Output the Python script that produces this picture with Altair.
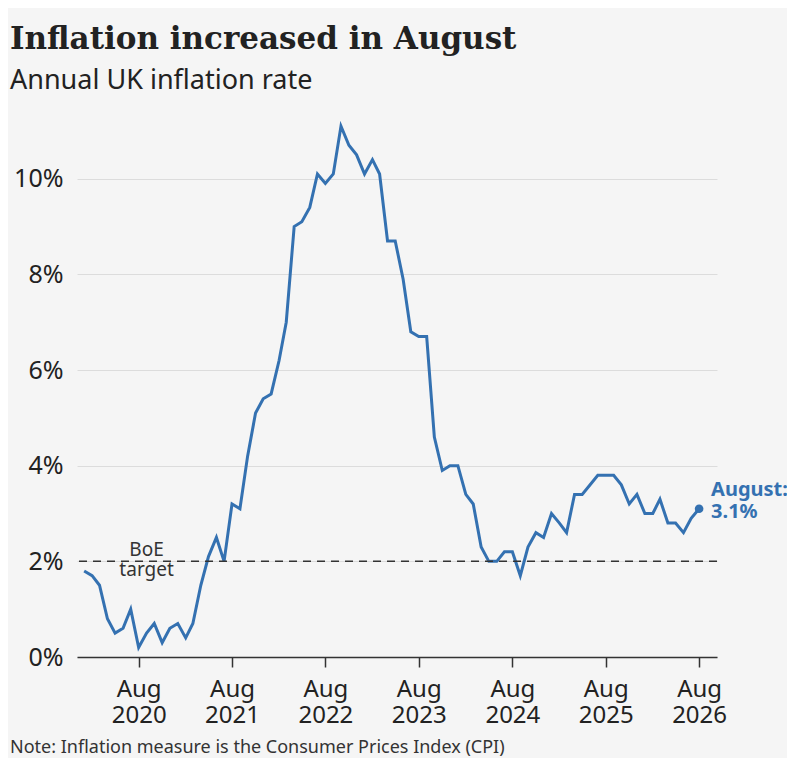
import altair as alt
import pandas as pd

# ---------------- data ----------------
start_month = "2020-01-01"
cpi = [
    1.8, 1.7, 1.5, 0.8, 0.5, 0.6, 1.0, 0.2, 0.5, 0.7, 0.3, 0.6,      # 2020
    0.7, 0.4, 0.7, 1.5, 2.1, 2.5, 2.0, 3.2, 3.1, 4.2, 5.1, 5.4,      # 2021
    5.5, 6.2, 7.0, 9.0, 9.1, 9.4, 10.1, 9.9, 10.1, 11.1, 10.7, 10.5, # 2022
    10.1, 10.4, 10.1, 8.7, 8.7, 7.9, 6.8, 6.7, 6.7, 4.6, 3.9, 4.0,   # 2023
    4.0, 3.4, 3.2, 2.3, 2.0, 2.0, 2.2, 2.2, 1.7, 2.3, 2.6, 2.5,      # 2024
    3.0, 2.8, 2.6, 3.4, 3.4, 3.6, 3.8, 3.8, 3.8, 3.6, 3.2, 3.4,      # 2025
    3.0, 3.0, 3.3, 2.8, 2.8, 2.6, 2.9, 3.1,                          # 2026
]
months = pd.date_range(start_month, periods=len(cpi), freq="MS").strftime("%Y-%m-%d").tolist()

tick_years = [2020, 2021, 2022, 2023, 2024, 2025, 2026]
tick_month = 8
y_ticks = [0, 2, 4, 6, 8, 10]
target_rate = 2
target_label = "BoE\ntarget"
target_label_date = "2020-09-01"
last_label = "August:"

title_text = "Inflation increased in August"
subtitle_text = "Annual UK inflation rate"
note_text = "Note: Inflation measure is the Consumer Prices Index (CPI)"

# ---------------- styling ----------------
W, H = 640, 550
BLUE = "#3471b1"
DARK = "#222222"
BG = "#f5f5f5"

df = pd.DataFrame({"date": months, "cpi": cpi})
last_df = df.tail(1).assign(label=f"{last_label}\n{cpi[-1]}%")

x_scale = alt.Scale(
    type="utc",
    domain=[alt.DateTime(year=2019, month=12, date=4, utc=True),
            alt.DateTime(year=2026, month=10, date=10, utc=True)],
)
y_scale = alt.Scale(domain=[0, 11.5], nice=False)

x_axis = alt.Axis(
    values=[alt.DateTime(year=yr, month=tick_month, date=1, utc=True) for yr in tick_years],
    labelExpr="[utcFormat(datum.value, '%b'), utcFormat(datum.value, '%Y')]",
    title=None, grid=False,
    domainColor="#333", domainWidth=1.5,
    tickColor="#333", tickWidth=1.5, tickSize=10,
    labelFont="Noto Sans", labelFontSize=24, labelLineHeight=26,
    labelColor=DARK, labelPadding=10, labelFlush=False, labelOverlap=False,
    zindex=1,
)
y_axis = alt.Axis(
    values=y_ticks, labelExpr="datum.value + '%'",
    title=None, domain=False, ticks=False,
    grid=True, gridColor="#dcdcdc", gridWidth=1,
    labelFont="Noto Sans", labelFontSize=25, labelColor=DARK, labelPadding=14,
)

base = alt.Chart(df)

line = base.mark_line(color=BLUE, strokeWidth=3).encode(
    x=alt.X("date:T", scale=x_scale, axis=x_axis),
    y=alt.Y("cpi:Q", scale=y_scale, axis=y_axis),
)

target = alt.Chart(pd.DataFrame({"cpi": [target_rate]})).mark_rule(
    color="#333", strokeWidth=1.5, strokeDash=[8, 6]
).encode(y=alt.Y("cpi:Q", scale=y_scale))

target_text = alt.Chart(
    pd.DataFrame({"date": [target_label_date], "cpi": [target_rate], "label": [target_label]})
).mark_text(
    lineBreak="\n", font="Noto Sans", fontSize=19, color="#333",
    align="center", baseline="alphabetic", dy=-5, lineHeight=19.5,
).encode(x=alt.X("date:T", scale=x_scale), y=alt.Y("cpi:Q", scale=y_scale), text="label:N")

last_point = alt.Chart(last_df).mark_point(
    filled=True, size=75, color=BLUE, opacity=1
).encode(x=alt.X("date:T", scale=x_scale), y=alt.Y("cpi:Q", scale=y_scale))

last_text = alt.Chart(last_df).mark_text(
    lineBreak="\n", font="Noto Sans", fontSize=20, fontWeight="bold", color=BLUE,
    align="left", baseline="alphabetic", dx=12, dy=-13, lineHeight=22,
).encode(x=alt.X("date:T", scale=x_scale), y=alt.Y("cpi:Q", scale=y_scale), text="label:N")

note = alt.Chart(pd.DataFrame({"note": [note_text]})).mark_text(
    font="Noto Sans", fontSize=18, color="#333", align="left", baseline="alphabetic"
).encode(x=alt.value(-67), y=alt.value(646), text="note:N")

chart = alt.layer(line, target, target_text, last_point, last_text, note).properties(
    width=W, height=H,
    padding={"left": 69, "top": 99, "right": 70, "bottom": 101},
    autosize=alt.AutoSizeParams(type="none"),
    background=BG,
    title=alt.TitleParams(
        text=title_text, subtitle=subtitle_text,
        anchor="start", frame="group", dx=-67, offset=12,
        font="DejaVu Serif", fontSize=31, fontWeight="bold", color=DARK,
        subtitleFont="Noto Sans", subtitleFontSize=27, subtitleColor=DARK,
        subtitlePadding=12,
    ),
).configure_view(stroke=None)

chart.save("out.html", embed_options={"renderer": "svg", "actions": False})
